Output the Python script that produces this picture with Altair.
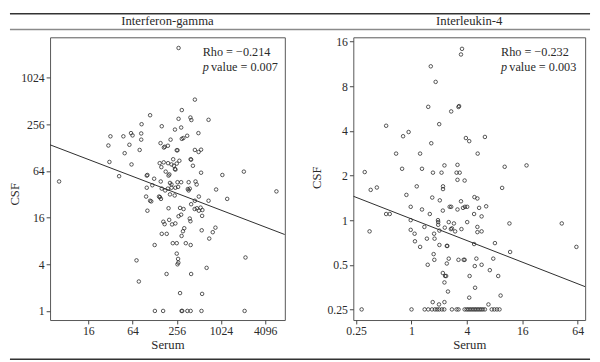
import numpy as np
import pandas as pd
import altair as alt

# ---------------- data ----------------
# Interferon-gamma: serum vs CSF
ifn_serum = [271, 452, 300, 111, 271, 393, 405, 694, 85, 160, 294, 242, 505, 61, 64, 84, 48, 32,
             355, 84, 211, 300, 315, 154, 58, 30, 171, 176, 194, 80, 256, 262, 452, 508, 549, 50,
             229, 396, 402, 31, 150, 170, 195, 278, 62, 217, 234, 256, 158, 425, 242, 246, 181,
             549, 1070, 2100, 42, 100, 102, 126, 155, 198, 203, 207, 217, 262, 294, 372, 461, 478,
             6.4, 100, 119, 160, 178, 194, 217, 245, 267, 362, 372, 385, 880, 98, 111, 115, 147,
             151, 156, 207, 240, 512, 452, 694, 1245, 5830, 102, 198, 284, 317, 402, 449, 481,
             512, 541, 572, 271, 294, 385, 393, 567, 168, 175, 202, 221, 245, 324, 311, 560, 861,
             792, 160, 187, 298, 709, 128, 226, 256, 340, 396, 256, 267, 269, 262, 72.5, 2210,
             653, 186, 402, 78, 284, 567, 129, 167, 298, 304, 357, 396, 556, 2150]
ifn_csf = [2490, 536, 393, 337, 303, 315, 292, 294, 258, 243, 234, 220, 198, 198, 185, 196, 180, 180,
           183, 163, 163, 167, 171, 147, 140, 137, 129, 132, 136, 120, 119, 119, 120, 113, 121, 109,
           91, 91, 90, 84, 81, 83, 81, 87, 78, 78, 75, 80, 72, 75, 68, 67, 63,
           61, 57, 63, 55, 56, 57, 51, 47, 56, 58, 45, 43, 46, 46, 46, 47, 43,
           47, 39, 42, 38, 36, 38, 39, 39, 40, 37.5, 36, 38, 37, 30, 26.5, 26, 30,
           29.5, 28, 32, 31, 30, 26.5, 26.5, 28, 35, 19.7, 21.2, 21.4, 20.7, 23.9, 20.7, 21.2,
           19.7, 21.6, 20.1, 16.7, 17.5, 15.6, 14.4, 16.9, 14.2, 13.2, 15.0, 13.1, 13.5, 11.7, 10.7, 11.0, 11.9,
           10.4, 9.9, 9.9, 9.3, 8.6, 7.1, 7.5, 7.5, 7.5, 7.1, 5.5, 4.7, 4.2, 4.0, 4.5, 4.9,
           3.6, 3.0, 3.0, 2.4, 1.7, 1.66, 1, 1, 1, 1, 1, 1, 1, 1]

# Interleukin-4: serum vs CSF
il4_serum = [3.54, 3.45, 1.62, 1.83, 1.52, 2.70, 3.29, 3.24, 0.53, 2.0, 0.93, 0.81, 1.64, 3.90, 4.24,
             6.28, 0.68, 1.24, 5.24, 0.79, 1.30, 2.28, 3.16, 10.3, 17.8, 0.31, 1.71, 2.12, 3.09, 3.34,
             3.16, 3.78, 0.36, 0.42, 1.14, 2.20, 2.20, 9.66, 0.88, 1.68, 2.03, 3.45, 4.83, 5.2, 3.63,
             6.48, 0.98, 1.30, 1.58, 2.19, 2.60, 2.70, 3.16, 3.81, 4.03, 5.43, 4.79, 5.78, 0.53, 0.58,
             0.35, 0.98, 1.94, 1.95, 2.54, 2.89, 4.03, 1.38, 1.95, 2.01, 2.30, 2.68, 2.75, 2.98, 3.49,
             0.98, 1.08, 1.76, 5.20, 5.2, 5.78, 11.6, 43, 62, 1.09, 1.24, 1.47, 1.78, 2.01, 2.42,
             2.45, 4.79, 8.07, 11.8, 1.74, 1.77, 2.54, 3.24, 3.69, 3.78, 5.07, 7.74, 1.50, 2.42, 4.87,
             5.78, 7.1, 2.19, 2.32, 2.38, 4.28, 8.76, 2.28, 2.49, 4.91, 4.24, 9.3, 1.70, 1.99, 2.28,
             6.86,
             0.287, 1.0, 1.39, 1.52, 1.67, 1.80, 1.90, 2.0, 2.14, 2.27, 2.75, 3.09, 3.24, 3.78, 3.97,
             4.14, 4.31, 4.49, 4.68, 4.87, 5.07, 5.28, 5.50, 5.73, 5.97, 6.28, 7.45, 7.95, 8.48, 9.05]
il4_csf = [14.3, 13.1, 10.9, 8.56, 5.81, 5.41, 5.88, 5.8, 4.33, 4.44, 3.93, 3.68, 3.3, 3.58, 3.41,
           3.64, 2.81, 2.81, 2.81, 2.22, 2.22, 2.34, 2.36, 2.29, 2.34, 2.11, 2.09, 2.09, 2.09, 2.09,
           1.87, 1.85, 1.60, 1.66, 1.69, 1.69, 1.62, 1.65, 1.48, 1.42, 1.36, 1.34, 1.43, 1.40, 1.21,
           1.24, 1.23, 1.18, 1.10, 1.16, 1.23, 1.23, 1.18, 1.23, 1.23, 1.21, 1.10, 1.06, 1.10, 1.10,
           0.84, 1.0, 1.0, 0.97, 0.97, 0.95, 0.97, 0.90, 0.93, 0.85, 0.89, 0.87, 0.88, 0.84, 0.87,
           0.86, 0.81, 0.81, 0.90, 0.83, 0.84, 0.95, 0.95, 0.66, 0.72, 0.66, 0.75, 0.75, 0.68, 0.67,
           0.67, 0.69, 0.70, 0.61, 0.59, 0.54, 0.55, 0.54, 0.54, 0.54, 0.55, 0.55, 0.50, 0.51, 0.49,
           0.50, 0.46, 0.44, 0.42, 0.42, 0.42, 0.42, 0.38, 0.33, 0.35, 0.30, 0.31, 0.28, 0.27, 0.28,
           0.27,
           0.25, 0.25, 0.25, 0.25, 0.25, 0.25, 0.25, 0.25, 0.25, 0.25, 0.25, 0.25, 0.25, 0.25, 0.25,
           0.25, 0.25, 0.25, 0.25, 0.25, 0.25, 0.25, 0.25, 0.25, 0.25, 0.25, 0.25, 0.25, 0.25, 0.25]

# fitted lines in log2 space: log2(CSF) = a + b * log2(Serum)
ifn_fit = (7.95, -0.3625)
il4_fit = (0.027, -0.242)

ifn_xticks = [16, 64, 256, 1024, 4096]
ifn_yticks = [1, 4, 16, 64, 256, 1024]
il4_xticks = [0.25, 1, 4, 16, 64]
il4_yticks = [0.25, 0.5, 1, 2, 4, 8, 16]

ifn_xdomain = [4.82, 7590]
ifn_ydomain = [0.763, 3420]
il4_xdomain = [0.233, 77.2]
il4_ydomain = [0.212, 17.1]

titles = ["Interferon-gamma", "Interleukin-4"]
rho_text = ["Rho = \u22120.214", "Rho = \u22120.232"]
p_text = ["value = 0.007", "value = 0.003"]

FONT = "Liberation Serif"
INK = "#2a2a2a"
H = 289

one = pd.DataFrame({"k": [0]})


def txt(text, x, y, size=12.5, align="left", style="normal"):
    return alt.Chart(one).mark_text(text=text, font=FONT, fontSize=size, fontStyle=style,
                                    align=align, baseline="middle", color=INK).encode(
        x=alt.value(x), y=alt.value(y))


def panel(serum, csf, fit, xdom, ydom, xticks, yticks, title, rho, pval, width,
          ann_x, title_x, title_y, deco=False):
    pts = pd.DataFrame({"Serum": serum, "CSF": csf})
    a, b = fit
    fx = np.array(xdom, dtype=float)
    fy = 2 ** (a + b * np.log2(fx))
    line_df = pd.DataFrame({"Serum": fx, "CSF": fy})

    xs = alt.Scale(type="log", base=2, domain=xdom, nice=False)
    ys = alt.Scale(type="log", base=2, domain=ydom, nice=False)
    xax = alt.Axis(title="Serum", values=xticks, format="~g", grid=False, domain=False,
                   tickSize=4, labelPadding=2, titlePadding=2)
    yax = alt.Axis(title="CSF", values=yticks, format="~g", grid=False, domain=False,
                   tickSize=4, labelPadding=2, titleX=title_x, titleY=title_y)

    points = alt.Chart(pts).mark_point(shape="circle", filled=False, size=13,
                                       strokeWidth=0.8, color=INK, opacity=1).encode(
        x=alt.X("Serum:Q", scale=xs, axis=xax),
        y=alt.Y("CSF:Q", scale=ys, axis=yax),
    )
    line = alt.Chart(line_df).mark_line(color=INK, strokeWidth=1, clip=True).encode(
        x=alt.X("Serum:Q", scale=xs),
        y=alt.Y("CSF:Q", scale=ys),
    )
    layers = [points, line,
              txt(rho, ann_x, 15),
              txt("p", ann_x, 30, style="italic"),
              txt(pval, ann_x + 8.5, 30),
              txt(title, width / 2, -17, size=13, align="center")]
    if deco:
        top = alt.Chart(one).mark_rule(color="#333", strokeWidth=1.5).encode(
            x=alt.value(-41), x2=alt.value(552), y=alt.value(-24))
        under = alt.Chart(one).mark_rule(color="#8a8a8a", strokeWidth=1.5).encode(
            x=alt.value(-41), x2=alt.value(552), y=alt.value(-8))
        bottom = alt.Chart(one).mark_rule(color="#333", strokeWidth=1.5).encode(
            x=alt.value(-41), x2=alt.value(552), y=alt.value(H + 40))
        layers += [top, under, bottom]
    return alt.layer(*layers).properties(width=width, height=H)


left = panel(ifn_serum, ifn_csf, ifn_fit, ifn_xdomain, ifn_ydomain, ifn_xticks, ifn_yticks,
             titles[0], rho_text[0], p_text[0], 240, 156, -29, 160, deco=True)
right = panel(il4_serum, il4_csf, il4_fit, il4_xdomain, il4_ydomain, il4_xticks, il4_yticks,
              titles[1], rho_text[1], p_text[1], 237, 151, -31, 143)

chart = alt.hconcat(left, right, spacing=70, bounds="flush").properties(
    padding=0, background="white"
).configure_view(
    stroke="#555", strokeWidth=1
).configure_axis(
    labelFont=FONT, labelFontSize=12, labelColor=INK, tickColor="#444",
    titleFont=FONT, titleFontSize=13, titleFontWeight="normal", titleColor=INK,
)

chart.save("out.html", embed_options={"renderer": "svg", "actions": False})
